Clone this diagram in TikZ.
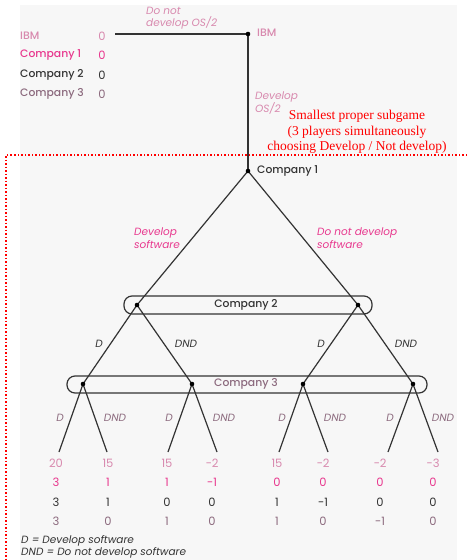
\documentclass[tikz,border=0pt]{standalone}
\usepackage{fontspec}
\setmainfont{Poppins}[BoldFont={Poppins Medium}]
\newfontfamily\notefont{Liberation Serif}
\definecolor{ibmcol}{HTML}{D889AE}
\definecolor{onecol}{HTML}{E8388E}
\definecolor{twocol}{HTML}{333333}
\definecolor{threecol}{HTML}{8C6A7E}
\definecolor{panel}{HTML}{F7F7F7}
\tikzset{
  branch/.style={draw=twocol, line width=1.2pt},
  dot/.style={fill=black},
  lab/.style={inner sep=0pt, font=\fontsize{10}{11}\selectfont},
  playername/.style={lab, font=\fontsize{10.8}{11}\selectfont\bfseries},
  movelab/.style={lab, font=\fontsize{10.5}{12.5}\selectfont\itshape, align=left},
  pay/.style={lab, font=\fontsize{11.5}{12}\selectfont},
  infoset/.style={draw=twocol, line width=1.2pt, rounded corners=8pt}
}
\begin{document}
\begin{tikzpicture}[x=1pt, y=-1pt]
  \useasboundingbox (0,0) rectangle (467,560);
  \fill[panel] (20,5) rectangle (457,560);
  % decision nodes
  \coordinate (ibm) at (248,34);
  \coordinate (start) at (115,34);
  \coordinate (c1) at (248,171);
  \coordinate (c2a) at (137,305);
  \coordinate (c2b) at (358,305);
  \coordinate (c3a) at (83,384);
  \coordinate (c3b) at (192,384);
  \coordinate (c3c) at (303,384);
  \coordinate (c3d) at (413,384);
  % information sets
  \draw[infoset] (124,296) rectangle (372,314);
  \draw[infoset] (67,376) rectangle (427,393);
  \node[playername, fill=panel, inner xsep=2pt, text=twocol] (c2name) at (246,305) {Company 2};
  \node[playername, fill=panel, inner xsep=2pt, text=threecol] (c3name) at (246,384) {Company 3};
  % branches
  \draw[branch] (start) -- (ibm);
  \draw[branch] (ibm) -- (c1);
  \draw[branch] (c1) -- (c2a);
  \draw[branch] (c1) -- (c2b);
  \draw[branch] (c2a) -- (c3a);
  \draw[branch] (c2a) -- (c3b);
  \draw[branch] (c2b) -- (c3c);
  \draw[branch] (c2b) -- (c3d);
  \foreach \n/\l/\r in {c3a/59/107, c3b/168/217, c3c/279/328, c3d/388/438}{
    \coordinate (\n l) at (\l,452);
    \coordinate (\n r) at (\r,452);
    \draw[branch] (\n) -- (\n l);
    \draw[branch] (\n) -- (\n r);
  }
  \foreach \n in {ibm,c1,c2a,c2b,c3a,c3b,c3c,c3d}
    \fill[dot] (\n) circle (2.3);
  % player names
  \node[playername, anchor=west, text=ibmcol] (ibmname) at (257,33) {IBM};
  \node[playername, anchor=west, text=twocol] (c1name) at (257,171) {Company 1};
  % start payoffs
  \node[playername, anchor=west, text=ibmcol] (ibmleft) at (20,36) {IBM};
  \node[playername, anchor=west, text=onecol] (oneleft) at (20,55) {Company 1};
  \node[playername, anchor=west, text=twocol] (twoleft) at (20,75) {Company 2};
  \node[playername, anchor=west, text=threecol] (threeleft) at (20,94) {Company 3};
  \node[pay, text=ibmcol] at (102,36) {0};
  \node[pay, text=onecol] at (102,55) {0};
  \node[pay, text=twocol] at (102,75) {0};
  \node[pay, text=threecol] at (102,94) {0};
  % move labels
  \node[movelab, anchor=west, text=ibmcol] (notos) at (146,18) {Do not\\develop OS/2};
  \node[movelab, anchor=west, text=ibmcol] (os) at (255,103) {Develop\\OS/2};
  \node[movelab, anchor=west, text=onecol] (dev) at (134,238) {Develop\\software};
  \node[movelab, anchor=west, text=onecol] (nodev) at (317,238) {Do not develop\\software};
  \foreach \x/\t in {99/D, 186/DND, 321/D, 406/DND}
    \node[movelab, text=twocol] at (\x,344) {\t};
  \foreach \x/\t in {60/D, 115/DND, 169/D, 224/DND, 282/D, 335/DND, 390/D, 443/DND}
    \node[movelab, text=threecol] at (\x,418) {\t};
  % payoffs at the leaves
  \foreach \x/\a/\b/\c/\d in {56/20/3/3/3, 108/15/1/1/0, 167/15/1/0/1, 212/−2/−1/0/0,
      277/15/0/1/1, 323/−2/0/−1/0, 380/−2/0/0/−1, 433/−3/0/0/0}{
    \node[pay, text=ibmcol] at (\x,463) {\a};
    \node[pay, text=onecol] at (\x,482) {\b};
    \node[pay, text=twocol] at (\x,502) {\c};
    \node[pay, text=threecol] at (\x,521) {\d};
  }
  % legend
  \node[movelab, anchor=west, text=twocol] (legend) at (21,547) {D = Develop software\\DND = Do not develop software};
  % subgame marker
  \node[inner sep=0pt, text=red, align=center, font=\notefont\fontsize{13.5}{15.5}\selectfont] (subgame) at (357,132)
    {Smallest proper subgame\\(3 players simultaneously\\choosing Develop / Not develop)};
  \coordinate (sgcorner) at (6,155);
  \coordinate (sgright) at (467,155);
  \coordinate (sgbottom) at (6,560);
  \draw[red, line width=1.5pt, dotted] (sgright) -- (sgcorner) -- (sgbottom);
\end{tikzpicture}
\end{document}
